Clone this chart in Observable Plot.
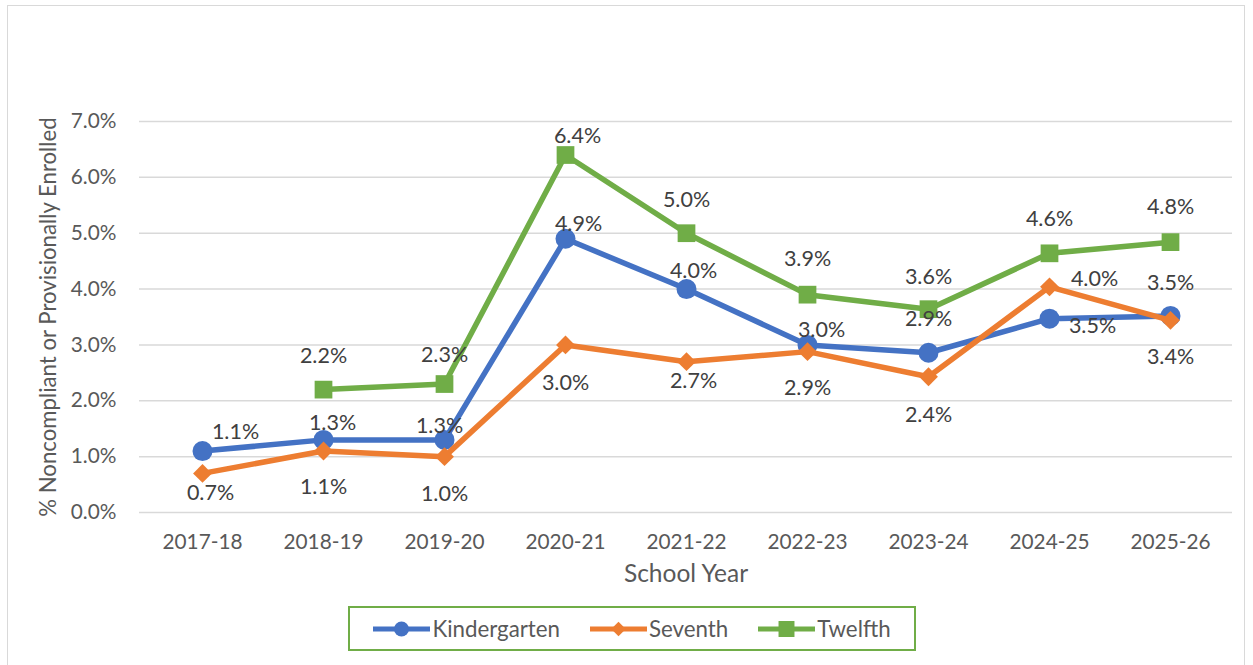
<!DOCTYPE html>
<html>
<head>
<meta charset="utf-8">
<script src="https://cdn.jsdelivr.net/npm/d3@7"></script>
<script src="https://cdn.jsdelivr.net/npm/@observablehq/plot@0.6"></script>
<style>
  body { margin: 0; background: #fff; font-family: Lato, sans-serif; }
  #frame { position: absolute; left: 7px; top: 5px; width: 1238px; height: 700px; border: 1.5px solid #d9d9d9; box-sizing: border-box; }
  #chart { position: absolute; left: 0; top: 0; }
  #legend { position: absolute; left: 348px; top: 606px; width: 568px; height: 45px; border: 2px solid #70AD47;
            box-sizing: border-box; display: flex; align-items: center; justify-content: center; gap: 30px; background: #fff; }
  .item { display: flex; align-items: center; font-size: 22.3px; color: #595959; }
  .item svg { margin-right: 2px; }
</style>
</head>
<body>
<div id="frame"></div>
<div id="chart"></div>
<div id="legend"></div>
<script>
// ---- data ----
const years = ["2017-18", "2018-19", "2019-20", "2020-21", "2021-22", "2022-23", "2023-24", "2024-25", "2025-26"];
const kindergarten = [1.1, 1.3, 1.3, 4.9, 4.0, 3.0, 2.86, 3.47, 3.52];
const seventh      = [0.7, 1.1, 1.0, 3.0, 2.7, 2.88, 2.43, 4.04, 3.44];
const twelfth      = [null, 2.2, 2.3, 6.4, 5.0, 3.9, 3.64, 4.64, 4.84];
const seriesNames  = ["Kindergarten", "Seventh", "Twelfth"];
const yTicks       = [0, 1, 2, 3, 4, 5, 6, 7];

// ---- styling / label placement (not data) ----
const colors  = ["#4472C4", "#ED7D31", "#70AD47"];
const symbols = ["circle", "diamond2", "square"];
const radii   = [10, 8.5, 10];
const legendR = [7.5, 6.5, 9];
const labelDx = [
  [33, 9, -5, 13, 7, 14, 0, 43, 0],
  [8, 0, 0, 0, 7, 0, 0, 45, 0],
  [0, 0, 0, 12, 0, 0, 0, 0, 0]
];
const labelDy = [
  [-19, -17, -14, -15, -18, -15, -34, 7, -33],
  [20, 36, 37, 38, 19, 36, 38, -8, 37],
  [0, -34, -29, -19, -33, -36, -32, -34, -35]
];

const valuesBySeries = [kindergarten, seventh, twelfth];
const rows = seriesNames.map((s, i) => years.map((yr, j) => ({series: s, year: yr, value: valuesBySeries[i][j] ?? undefined})));

const font = "Lato, sans-serif";
const marks = [
  Plot.gridY(yTicks, {stroke: "#d9d9d9", strokeOpacity: 1, strokeWidth: 1.5}),
  Plot.axisY(yTicks, {tickSize: 0, tickPadding: 23, tickFormat: d => d.toFixed(1) + "%", fill: "#595959", label: null}),
  Plot.axisX({tickSize: 0, tickPadding: 22, fill: "#595959", label: null}),
  Plot.text(["% Noncompliant or Provisionally Enrolled"], {frameAnchor: "left", textAnchor: "middle", rotate: -90, dx: -91, fill: "#595959", fontSize: 22.2}),
  Plot.text(["School Year"], {frameAnchor: "bottom", dy: 69, fill: "#595959", fontSize: 24.5})
];
rows.forEach((data, i) => {
  marks.push(Plot.line(data, {x: "year", y: "value", stroke: colors[i], strokeWidth: 5.5, strokeLinejoin: "round"}));
  marks.push(Plot.dot(data.filter(d => d.value != null), {x: "year", y: "value", symbol: symbols[i], r: radii[i], fill: colors[i], stroke: "none"}));
});
rows.forEach((data, i) => {
  data.forEach((d, j) => {
    if (d.value == null) return;
    marks.push(Plot.text([d], {x: "year", y: "value", text: v => d3.format(".1f")(v.value) + "%", dx: labelDx[i][j], dy: labelDy[i][j], fill: "#404040", fontSize: 21.5}));
  });
});

const chart = Plot.plot({
  width: 1253,
  height: 600,
  marginLeft: 139,
  marginRight: 21,
  marginTop: 121,
  marginBottom: 88,
  style: {fontFamily: font, fontSize: "20.8px", background: "transparent", overflow: "visible"},
  x: {type: "point", domain: years, padding: 0.5},
  y: {domain: [0, 7]},
  marks
});
document.getElementById("chart").appendChild(chart);

// ---- legend ----
const legend = document.getElementById("legend");
const d3sym = {circle: d3.symbolCircle, diamond2: d3.symbolDiamond2, square: d3.symbolSquare};
seriesNames.forEach((name, i) => {
  const item = document.createElement("div");
  item.className = "item";
  const sym = d3.symbol(d3sym[symbols[i]], Math.PI * legendR[i] ** 2)();
  item.innerHTML = `<svg width="57" height="22"><line x1="0" x2="57" y1="11" y2="11" stroke="${colors[i]}" stroke-width="5"/><path d="${sym}" transform="translate(28.5,11)" fill="${colors[i]}"/></svg><span>${name}</span>`;
  legend.appendChild(item);
});
</script>
</body>
</html>
